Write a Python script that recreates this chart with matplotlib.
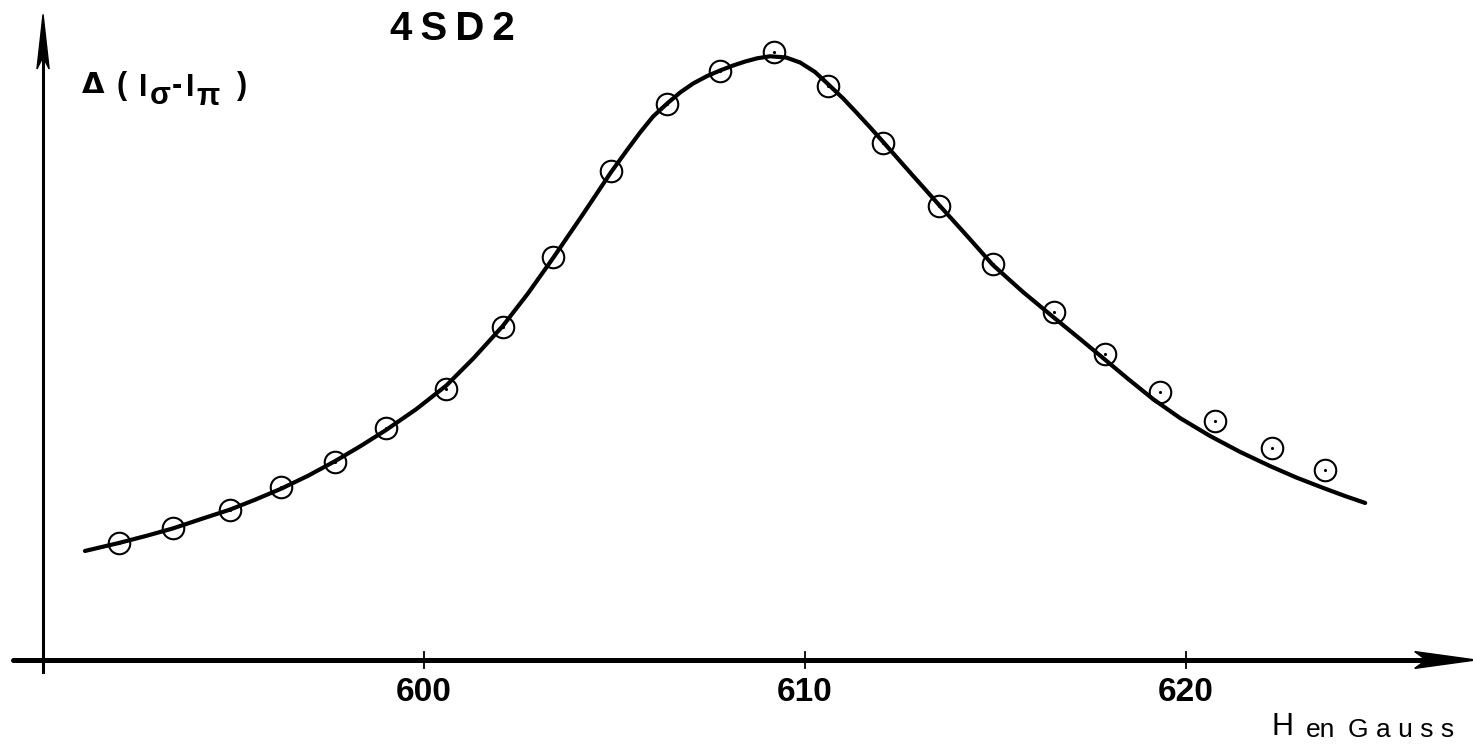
import matplotlib.pyplot as plt
import numpy as np

plt.rcParams['font.family'] = ['Liberation Sans Narrow', 'Liberation Sans', 'DejaVu Sans']

# Points mesurés : champ H (Gauss) et signal Δ(Iσ - Iπ) en unités arbitraires
H_mes = [591.99, 593.41, 594.91, 596.25, 597.66, 599.00, 600.58, 602.07,
         603.39, 604.91, 606.38, 607.77, 609.19, 610.60, 612.05, 613.52,
         614.93, 616.54, 617.87, 619.32, 620.76, 622.26, 623.65]
S_mes = [19.5, 22.0, 25.0, 28.8, 33.0, 38.7, 45.2, 55.5,
         67.2, 81.5, 92.7, 98.2, 101.3, 95.7, 86.2, 75.7,
         66.0, 58.0, 51.0, 44.7, 39.8, 35.3, 31.7]

# Courbe théorique relevée point par point
H_th = [591.10, 591.50, 591.99, 592.70, 593.41, 594.12, 594.91, 595.56,
        596.25, 596.96, 597.66, 598.32, 599.00, 599.79, 600.58, 601.31,
        602.07, 602.73, 603.39, 604.15, 604.91, 605.30, 605.67, 606.01,
        606.38, 606.72, 607.06, 607.43, 607.77, 608.11, 608.43, 608.74,
        609.08, 609.50, 609.87, 610.26, 610.60, 611.00, 611.31, 611.71,
        612.05, 612.78, 613.54, 614.23, 614.93, 615.72, 616.51, 617.17,
        617.82, 618.48, 619.13, 619.84, 620.63, 621.42, 622.20, 622.89,
        623.60, 624.17, 624.70]
S_th = [18.17, 18.77, 19.50, 20.67, 21.93, 23.43, 25.07, 26.70,
        28.55, 30.72, 33.13, 35.60, 38.32, 41.78, 45.72, 50.37,
        55.70, 61.12, 67.03, 74.10, 81.33, 84.75, 87.92, 90.58,
        92.75, 94.58, 96.08, 97.33, 98.25, 99.08, 99.75, 100.28,
        100.62, 100.42, 99.58, 98.00, 96.00, 93.58, 91.50, 88.75,
        86.33, 81.08, 75.67, 70.83, 65.83, 61.33, 57.17, 53.75,
        50.33, 46.83, 43.50, 40.33, 37.33, 34.67, 32.33, 30.42,
        28.67, 27.33, 26.17]

graduations = [600, 610, 620]

fig = plt.figure(figsize=(14.73, 7.48), dpi=100)
ax = fig.add_axes([0, 0, 1, 1])
ax.set_xlim(588.87, 627.53)
ax.set_ylim(-14.67, 110)
ax.axis('off')

# Axe horizontal avec flèche
ax.plot([589.2, 626.3], [0, 0], color='black', lw=3.6, solid_capstyle='round')
ax.fill([626.0, 627.6, 626.0, 626.3], [1.4, 0, -1.4, 0], color='black')

# Axe vertical avec flèche
ax.plot([590.0, 590.0], [-2.0, 100.0], color='black', lw=2.2)
ax.fill([589.84, 590.0, 590.16, 590.0], [98.5, 107.6, 98.5, 100.5], color='black')

# Graduations
for t in graduations:
    ax.plot([t, t], [-1.4, 1.4], color='black', lw=1.3)
    ax.text(t, -5.5, str(t), ha='center', va='center', fontsize=24, fontweight='bold')

# Courbe et points
ax.plot(H_th, S_th, color='black', lw=3.0, solid_joinstyle='round', solid_capstyle='round')
ax.plot(H_mes, S_mes, 'o', mfc='none', mec='black', ms=15.5, mew=1.5)
ax.plot(H_mes, S_mes, '.', color='black', ms=2.5)

W, Hpx = 1473, 748


def txt(x, y, s, **kw):
    # position en pixels depuis le coin haut gauche
    fig.text(x / W, 1 - y / Hpx, s, **kw)


sans = ['Liberation Sans', 'DejaVu Sans']

# Titre
txt(452, 29, '4\u2009S\u2009D\u20092', ha='center', va='center',
    fontsize=29, fontweight='bold', family=sans)

# Grandeur portée en ordonnée : Δ ( Iσ - Iπ )
kw = dict(ha='left', va='baseline', fontsize=22, family=sans, fontweight='bold')
txt(82, 93, '\u0394', ha='left', va='baseline', fontsize=21,
    family=['DejaVu Sans'], fontweight='bold')
txt(117, 94, '(', **kw)
txt(139, 96, 'I', **kw)
txt(150, 104, 'σ', **kw)
txt(172, 94, '-', **kw)
txt(186, 96, 'I', **kw)
txt(196, 105, 'π', **kw)
txt(237, 94, ')', **kw)

# Titre de l'axe des abscisses
txt(1272, 735, 'H', ha='left', va='baseline', fontsize=22, family=sans)
txt(1306, 737, 'en', ha='left', va='baseline', fontsize=19, family=sans)
txt(1348, 737, 'G a u s s', ha='left', va='baseline', fontsize=19, family=sans)

fig.savefig('out.png', dpi=100)
